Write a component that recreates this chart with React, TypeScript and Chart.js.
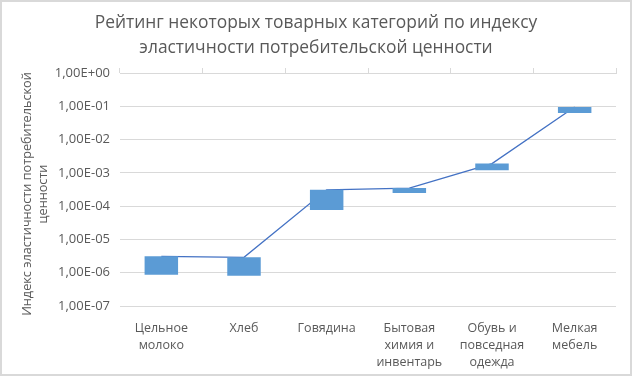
import { useEffect, useRef } from "react";
import { Chart, registerables } from "chart.js";

Chart.register(...registerables);

const categories: string[][] = [
  ["Цельное", "молоко"],
  ["Хлеб"],
  ["Говядина"],
  ["Бытовая", "химия и", "инвентарь"],
  ["Обувь и", "повседная", "одежда"],
  ["Мелкая", "мебель"],
];
const lowValues = [8.7e-7, 8.1e-7, 7.7e-5, 2.5e-4, 1.2e-3, 6.3e-2];
const highValues = [3.1e-6, 2.9e-6, 3.1e-4, 3.5e-4, 1.9e-3, 9.5e-2];
const yTickValues = [1e-7, 1e-6, 1e-5, 1e-4, 1e-3, 1e-2, 1e-1, 1];
const titleLines = [
  "Рейтинг некоторых товарных категорий по индексу",
  "эластичности потребительской ценности",
];
const yTitleLines = ["Индекс эластичности потребительской", "ценности"];

const FONT = "'Open Sans', 'Noto Sans', sans-serif";
const TEXT = "#595959";
const GRID = "#d9d9d9";

function fmtExp(v: number): string {
  const e = Math.round(Math.log10(v));
  const m = v / Math.pow(10, e);
  const sign = e < 0 ? "-" : "+";
  const ab = Math.abs(e);
  return m.toFixed(2).replace(".", ",") + "E" + sign + (ab < 10 ? "0" + ab : String(ab));
}

const decor = {
  id: "decor",
  beforeDraw(chart: any) {
    const ctx = chart.ctx;
    ctx.save();
    ctx.fillStyle = "#ffffff";
    ctx.fillRect(0, 0, chart.width, chart.height);
    ctx.restore();
  },
  afterDraw(chart: any) {
    const ctx = chart.ctx;
    const area = chart.chartArea;
    ctx.save();
    // title
    ctx.fillStyle = TEXT;
    ctx.font = `17.4px ${FONT}`;
    ctx.textAlign = "center";
    ctx.textBaseline = "middle";
    titleLines.forEach((t, i) => ctx.fillText(t, chart.width / 2, 23 + i * 25));
    // y title
    ctx.font = `12.7px ${FONT}`;
    const cy = (area.top + area.bottom) / 2 + 4.5;
    ctx.translate(0, cy);
    ctx.rotate(-Math.PI / 2);
    yTitleLines.forEach((t, i) => ctx.fillText(t, 0, 27 + i * 16));
    ctx.restore();
    // border
    ctx.save();
    ctx.strokeStyle = GRID;
    ctx.lineWidth = 2;
    ctx.strokeRect(1, 1, chart.width - 2, chart.height - 2);
    ctx.restore();
  },
};

export default function App() {
  const ref = useRef<HTMLCanvasElement | null>(null);
  useEffect(() => {
    document.body.style.margin = "0";
    if (!ref.current) return;
    const chart = new Chart(ref.current, {
      data: {
        labels: categories as any,
        datasets: [
          {
            type: "bar",
            data: lowValues.map((l, i) => [l, highValues[i]]) as any,
            backgroundColor: "#5B9BD5",
            borderWidth: 0,
            barPercentage: 0.405,
            categoryPercentage: 1,
            order: 1,
            xAxisID: "x",
          },
          {
            type: "line",
            data: highValues,
            borderColor: "#4472C4",
            borderWidth: 1.3,
            pointRadius: 0,
            tension: 0,
            order: 2,
            xAxisID: "x",
          },
        ],
      },
      options: {
        responsive: false,
        animation: false,
        layout: { padding: { top: 67, right: 16, bottom: 0, left: 0 } },
        plugins: {
          legend: { display: false },
          tooltip: { enabled: false },
          title: { display: false },
        },
        scales: {
          x: {
            type: "category",
            position: "bottom",
            offset: true,
            grid: { display: false },
            border: { display: false },
            ticks: {
              color: TEXT,
              font: { family: FONT, size: 12.5, lineHeight: 1.35 },
              padding: 6,
              maxRotation: 0,
              autoSkip: false,
            },
            afterFit: (s: any) => {
              s.height = 70;
            },
          },
          x2: {
            type: "category",
            position: "top",
            offset: true,
            grid: {
              display: true,
              drawOnChartArea: false,
              offset: true,
              tickLength: 5,
              color: GRID,
            },
            border: { display: true, color: GRID },
            ticks: { display: false },
            afterFit: (s: any) => {
              s.height = 6;
            },
          },
          y: {
            type: "logarithmic",
            min: 1e-7,
            max: 1,
            afterBuildTicks: (s: any) => {
              s.ticks = yTickValues.map((v) => ({ value: v }));
            },
            grid: { color: GRID, drawTicks: false },
            border: { display: false },
            ticks: {
              color: TEXT,
              font: { family: FONT, size: 13 },
              padding: 10,
              callback: (v: any) => fmtExp(Number(v)),
            },
            afterFit: (s: any) => {
              s.width = 120;
            },
          },
        },
      },
      plugins: [decor],
    } as any);
    return () => chart.destroy();
  }, []);
  return (
    <div style={{ width: 632, height: 376 }}>
      <canvas ref={ref} width={632} height={376} />
    </div>
  );
}
